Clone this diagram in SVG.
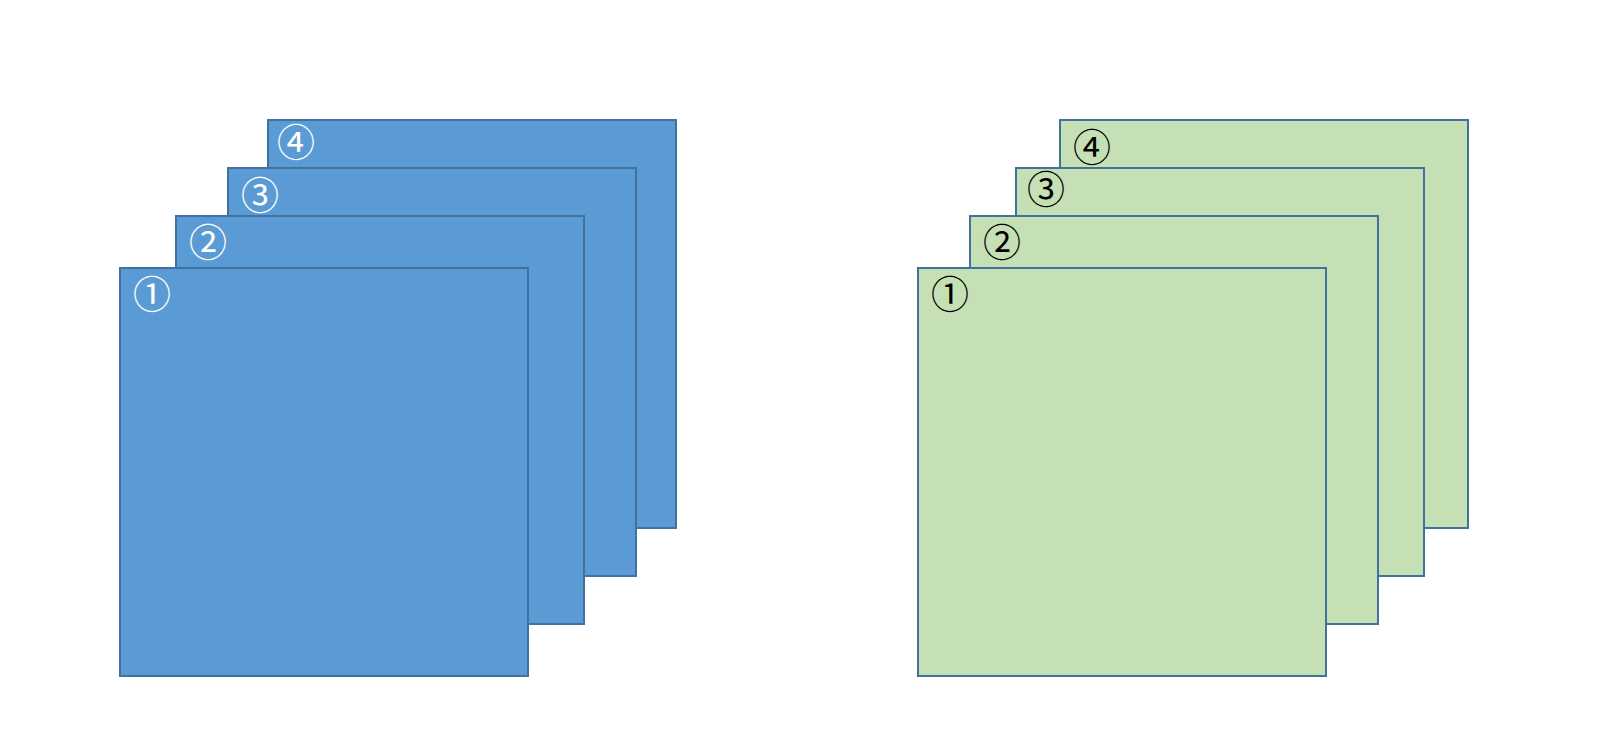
<svg xmlns="http://www.w3.org/2000/svg" width="1612" height="744" viewBox="0 0 1612 744">
<style>
.b{fill:#5B9BD5;stroke:#41719C;stroke-width:2}
.g{fill:#C5E0B4;stroke:#41719C;stroke-width:2}
.n{font-family:"DejaVu Serif","Noto Sans CJK SC",serif;font-size:38px;text-anchor:middle;dominant-baseline:central}
.w{fill:#FFFFFF}
.k{fill:#000000}
</style>
<rect width="1612" height="744" fill="#FFFFFF"/>
<g id="connectors"/>
<g id="blue-stack">
<g id="blue-4"><rect class="b" x="268" y="120" width="408" height="408"/><text class="n w" x="296" y="143">④</text></g>
<g id="blue-3"><rect class="b" x="228" y="168" width="408" height="408"/><text class="n w" x="260" y="196">③</text></g>
<g id="blue-2"><rect class="b" x="176" y="216" width="408" height="408"/><text class="n w" x="208" y="243">②</text></g>
<g id="blue-1"><rect class="b" x="120" y="268" width="408" height="408"/><text class="n w" x="152" y="295">①</text></g>
</g>
<g id="green-stack">
<g id="green-4"><rect class="g" x="1060" y="120" width="408" height="408"/><text class="n k" x="1092" y="148">④</text></g>
<g id="green-3"><rect class="g" x="1016" y="168" width="408" height="408"/><text class="n k" x="1046" y="190">③</text></g>
<g id="green-2"><rect class="g" x="970" y="216" width="408" height="408"/><text class="n k" x="1002" y="243">②</text></g>
<g id="green-1"><rect class="g" x="918" y="268" width="408" height="408"/><text class="n k" x="950" y="295">①</text></g>
</g>
</svg>
